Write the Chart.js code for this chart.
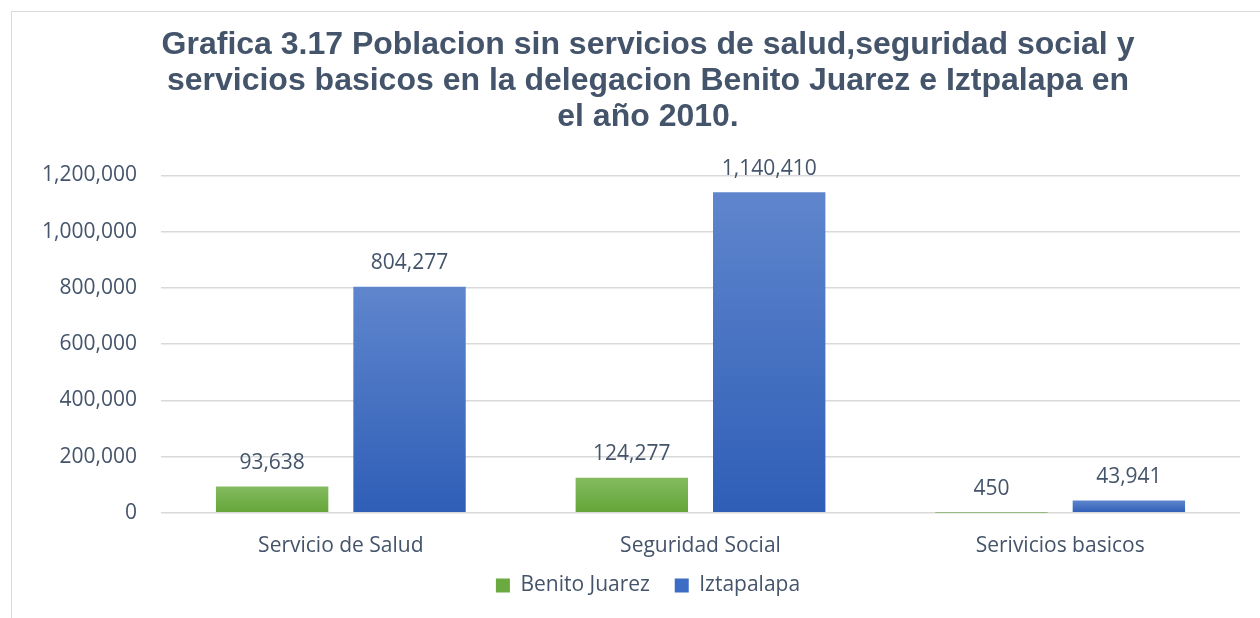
<!DOCTYPE html>
<html>
<head>
<meta charset="utf-8">
<script src="https://cdn.jsdelivr.net/npm/chart.js@4.4.1/dist/chart.umd.min.js"></script>
<style>
  html, body { margin: 0; padding: 0; background: #fff; overflow: hidden; }
  #wrap { position: absolute; left: 11px; top: 11px; width: 1274px; height: 660px;
          border: 1px solid #d9d9d9; box-sizing: border-box; }
  #inner { position: relative; width: 1272px; height: 594px; }
</style>
</head>
<body>
<div id="wrap"><div id="inner"><canvas id="grafica"></canvas></div></div>
<script>
const categorias = ["Servicio de Salud", "Seguridad Social", "Serivicios basicos"];
const benitoJuarez = [93638, 124277, 450];
const iztapalapa = [804277, 1140410, 43941];
const ticksY = [0, 200000, 400000, 600000, 800000, 1000000, 1200000];
const titulo = [
    "Grafica 3.17 Poblacion sin servicios de salud,seguridad social y",
    "servicios basicos en la delegacion Benito Juarez e Iztpalapa en",
    "el año 2010."
];

const textColor = "#44546a";
const fmt = v => v.toLocaleString("en-US");

function degradado(top, bottom) {
    return function (ctx) {
        const chart = ctx.chart;
        const y = chart.scales && chart.scales.y;
        if (!chart.chartArea || !y || ctx.raw === undefined) return bottom;
        const y0 = y.getPixelForValue(ctx.raw);
        const y1 = y.getPixelForValue(0);
        if (!isFinite(y0) || y1 - y0 < 1) return bottom;
        const g = chart.ctx.createLinearGradient(0, y0, 0, y1);
        g.addColorStop(0, top);
        g.addColorStop(1, bottom);
        return g;
    };
}

// etiquetas de datos encima de cada barra
const etiquetas = {
    id: "etiquetas",
    afterDatasetsDraw(chart) {
        const ctx = chart.ctx;
        ctx.save();
        ctx.font = "21px 'Open Sans'";
        ctx.fillStyle = textColor;
        ctx.textAlign = "center";
        ctx.textBaseline = "bottom";
        chart.data.datasets.forEach((ds, i) => {
            chart.getDatasetMeta(i).data.forEach((bar, j) => {
                ctx.fillText(fmt(ds.data[j]), bar.x, bar.y - 13);
            });
        });
        ctx.restore();
    }
};

new Chart(document.getElementById("grafica"), {
    type: "bar",
    data: {
        labels: categorias,
        datasets: [{
            label: "Benito Juarez",
            data: benitoJuarez,
            backgroundColor: degradado("#84bb60", "#64a538"),
            categoryPercentage: 0.764,
            barPercentage: 0.818
        }, {
            label: "Iztapalapa",
            data: iztapalapa,
            backgroundColor: degradado("#5f86cd", "#2f5eb7"),
            categoryPercentage: 0.764,
            barPercentage: 0.818
        }]
    },
    options: {
        responsive: true,
        maintainAspectRatio: false,
        animation: false,
        layout: { padding: 0 },
        plugins: {
            title: {
                display: true,
                text: titulo,
                color: textColor,
                font: { family: "'Liberation Sans', Arial, sans-serif", size: 32, weight: "bold", lineHeight: 1.13 },
                padding: { top: 15, bottom: 40 }
            },
            legend: {
                position: "bottom",
                labels: {
                    color: textColor,
                    font: { family: "'Open Sans'", size: 21, lineHeight: 1 },
                    boxWidth: 14,
                    boxHeight: 14,
                    padding: 3,
                    generateLabels(chart) {
                        const cols = ["#6aaa40", "#3d6cc4"];
                        const n = chart.data.datasets.length;
                        return chart.data.datasets.map((ds, i) => ({
                            // espacio extra entre elementos de la leyenda
                            text: i < n - 1 ? ds.label + "    " : ds.label,
                            fillStyle: cols[i],
                            strokeStyle: cols[i],
                            lineWidth: 0,
                            datasetIndex: i,
                            fontColor: textColor
                        }));
                    }
                }
            },
            tooltip: { enabled: false }
        },
        scales: {
            x: {
                grid: { display: false },
                border: { display: false },
                ticks: { color: textColor, font: { family: "'Open Sans'", size: 21 }, padding: 13 }
            },
            y: {
                min: 0,
                max: 1200000,
                afterBuildTicks(axis) {
                    axis.ticks = ticksY.map(v => ({ value: v }));
                },
                afterFit(axis) {
                    axis.width = 149;
                },
                grid: { color: "#d9d9d9", lineWidth: 1.5, drawTicks: false },
                border: { display: false },
                ticks: {
                    color: textColor,
                    font: { family: "'Open Sans'", size: 21 },
                    padding: 24,
                    callback: v => fmt(v)
                }
            },
            derecha: {
                position: "right",
                display: true,
                afterFit(axis) {
                    axis.width = 44;
                },
                grid: { display: false },
                border: { display: false },
                ticks: { display: false }
            }
        }
    },
    plugins: [etiquetas]
});
</script>
</body>
</html>
